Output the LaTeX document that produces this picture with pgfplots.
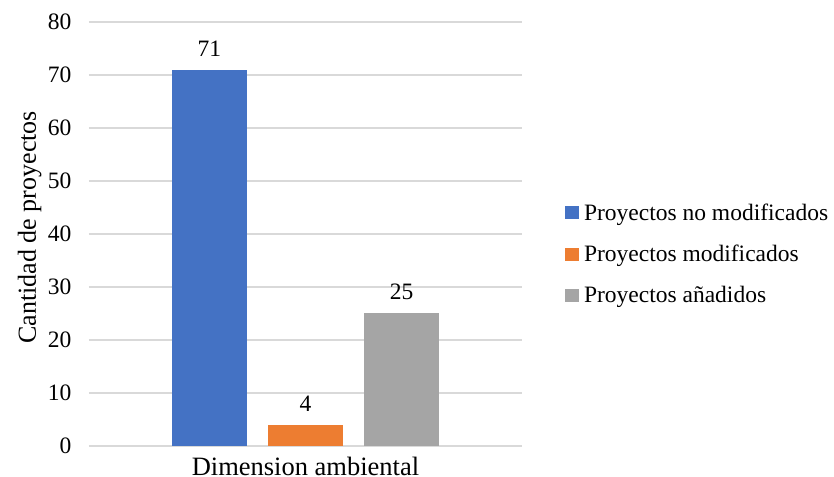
\documentclass[border=0pt]{standalone}
\usepackage{fontspec}
\setmainfont{Liberation Serif}
\usepackage{pgfplots}
\pgfplotsset{compat=1.18}
\definecolor{barBlue}{HTML}{4472C4}
\definecolor{barOrange}{HTML}{ED7D31}
\definecolor{barGray}{HTML}{A5A5A5}
\definecolor{gridGray}{HTML}{D9D9D9}
\begin{document}
\begin{tikzpicture}
\begin{axis}[
    scale only axis,
    width=433pt, height=424pt,
    xmin=-2.255, xmax=2.255,
    ymin=0, ymax=80,
    ytick={0,10,...,80},
    xtick={0},
    xticklabels={Dimension ambiental},
    axis line style={draw=none},
    major tick style={draw=none},
    ymajorgrids,
    grid style={gridGray, line width=1.2pt},
    /pgf/number format/assume math mode=true,
    tick label style={font=\fontsize{23.5}{28}\selectfont},
    yticklabel style={xshift=-14pt},
    xticklabel style={anchor=base, inner sep=0pt, yshift=-25pt, font=\fontsize{26.5}{31}\selectfont},
    ylabel={Cantidad de proyectos},
    ylabel style={at={(axis description cs:-0.1016,0.516)}, anchor=south, rotate=0,
        font=\fontsize{26}{31}\selectfont},
    ybar, bar width=0.79, bar shift=0pt,
    nodes near coords,
    every node near coord/.append style={font=\fontsize{23.5}{28}\selectfont, yshift=10pt, black},
    legend style={at={(1.092,0.453)}, anchor=west, draw=none, fill=none,
        font=\fontsize{23.5}{28}\selectfont, row sep=19.5pt,
        /tikz/every odd column/.append style={column sep=3pt}},
    legend cell align=left,
    legend image code/.code={\fill[#1] (0pt,-6.5pt) rectangle (14pt,6.5pt);},
]
\addplot[fill=barBlue, draw=none] coordinates {(-1,71)};
\addplot[fill=barOrange, draw=none] coordinates {(0,4)};
\addplot[fill=barGray, draw=none] coordinates {(1,25)};
\legend{Proyectos no modificados, Proyectos modificados, Proyectos añadidos}
\end{axis}
\pgfresetboundingbox
\path (current axis.south west) ++(-89pt,-30pt) coordinate (bl);
\path (current axis.north east) ++(312pt,22pt) coordinate (tr);
\path[use as bounding box] (bl) rectangle (tr);
\end{tikzpicture}
\end{document}
